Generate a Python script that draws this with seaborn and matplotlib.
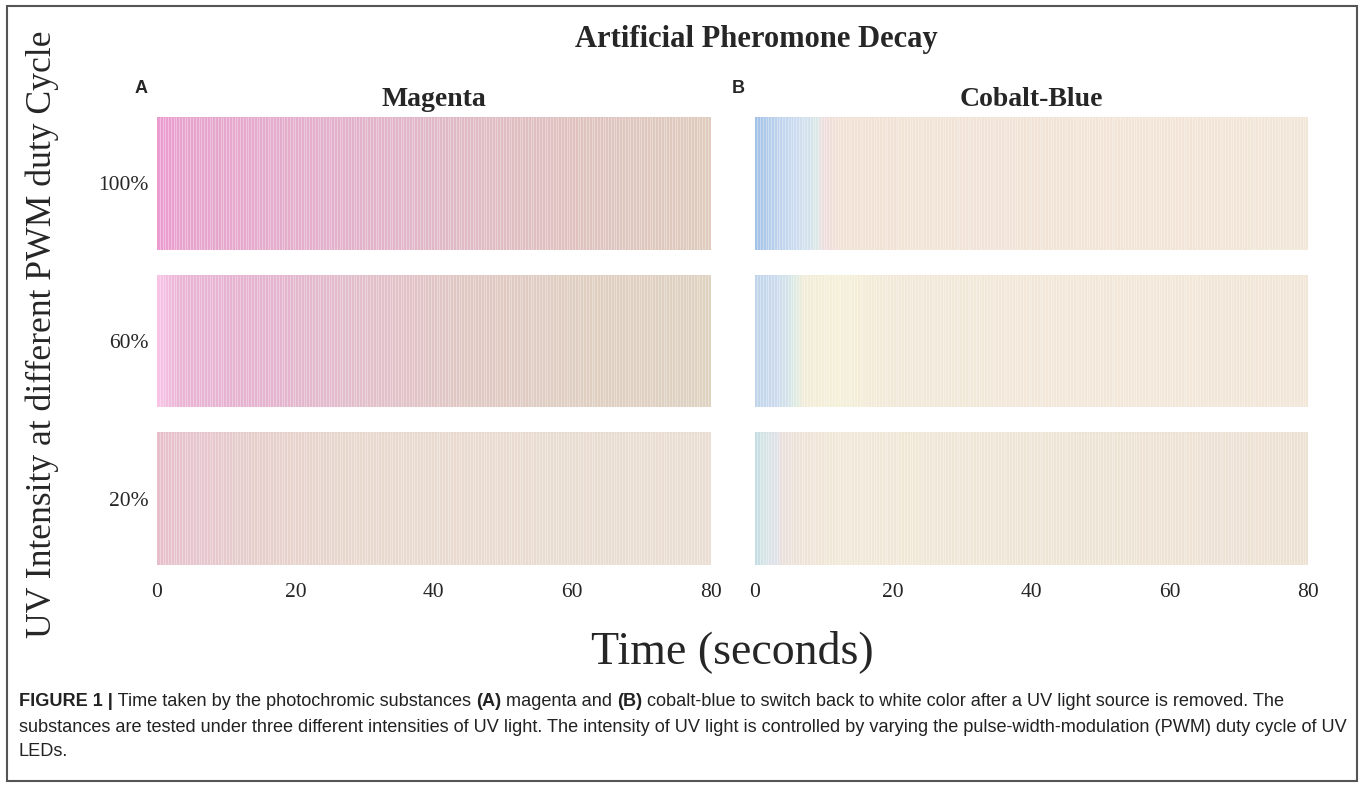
import numpy as np
import matplotlib.pyplot as plt
import seaborn as sns
from matplotlib.colors import LinearSegmentedColormap
from matplotlib.patches import Rectangle

sns.set_style("white")
plt.rcParams["font.family"] = ["Liberation Serif", "DejaVu Serif"]

# one stripe every 0.4 s, 0 - 80 s
time_step = 0.4
t_max = 80
duty_labels = ["100%", "60%", "20%"]
panel_titles = ["Magenta", "Cobalt-Blue"]
panel_letters = ["A", "B"]
x_ticks = [0, 20, 40, 60, 80]

magenta_100_t = [0, 4, 20, 40, 60, 80]
magenta_100_c = ["#ec9ccf", "#e7a4ce", "#e4aecc", "#e0b8c7", "#dfc2bf", "#dfccbe"]
magenta_60_t = [0, 3, 15, 30, 45, 60, 80]
magenta_60_c = ["#f7c4e6", "#eab4d5", "#e4b3cf", "#e2bfca", "#e0c8c3", "#dfcec1", "#dfd2c1"]
magenta_20_t = [0, 5, 15, 30, 80]
magenta_20_c = ["#e7bfcb", "#e6c5ce", "#e6cfcb", "#e8d9ce", "#eaded2"]

cobalt_100_t = [0, 3, 6, 8, 9, 10, 12, 80]
cobalt_100_c = ["#a3c2e8", "#bcd2ec", "#cddcf0", "#d6e4ec", "#dde9e6", "#f0dcdc", "#f1e2d6", "#f2e6d8"]
cobalt_60_t = [0, 3, 5, 6, 7, 12, 20, 80]
cobalt_60_c = ["#c0d5ea", "#ccdaee", "#d6e6e8", "#e2ece0", "#f2ecd8", "#f4f0d8", "#f2e8d8", "#f2e6d8"]
cobalt_20_t = [0, 1, 3, 4, 7, 12, 80]
cobalt_20_c = ["#c6dde4", "#d4e4e6", "#e0e2e8", "#eae0dc", "#f0e4d8", "#f0e8d8", "#ede1d4"]

strips = [
    [(magenta_100_t, magenta_100_c), (cobalt_100_t, cobalt_100_c)],
    [(magenta_60_t, magenta_60_c), (cobalt_60_t, cobalt_60_c)],
    [(magenta_20_t, magenta_20_c), (cobalt_20_t, cobalt_20_c)],
]

times = np.arange(0, t_max, time_step) + time_step / 2

fig, axes = plt.subplots(3, 2, figsize=(13.63, 7.87), dpi=100)
fig.subplots_adjust(left=0.1152, right=0.9597, top=0.8513, bottom=0.2821,
                    wspace=0.0794, hspace=0.188)

for r in range(3):
    for c in range(2):
        ax = axes[r, c]
        t_stops, c_stops = strips[r][c]
        cmap = LinearSegmentedColormap.from_list(
            f"s{r}{c}", [(t / t_max, col) for t, col in zip(t_stops, c_stops)])
        sns.heatmap(times[None, :], cmap=cmap, vmin=0, vmax=t_max, cbar=False,
                    ax=ax, xticklabels=False, yticklabels=False)
        # faint light lines between the samples
        ax.vlines(np.arange(1, len(times)), 0, 1, color="white", linewidth=0.6, alpha=0.4)
        ax.tick_params(length=0)
        if c == 0:
            ax.set_yticks([0.5])
            ax.set_yticklabels([duty_labels[r]], fontsize=15.5, rotation=0)
            ax.tick_params(axis="y", pad=6)
        if r == 2:
            ax.set_xticks([t / time_step for t in x_ticks])
            ax.set_xticklabels([str(t) for t in x_ticks], fontsize=15.5)
            ax.tick_params(axis="x", pad=13)

for c in range(2):
    axes[0, c].set_title(panel_titles[c], fontsize=20, fontweight="bold", pad=8)
    pos = axes[0, c].get_position()
    fig.text(pos.x0 - 0.012, 0.888, panel_letters[c], fontsize=13, fontweight="bold",
             family="Liberation Sans", ha="center", va="center")

fig.text(0.555, 0.950, "Artificial Pheromone Decay", fontsize=22, fontweight="bold",
         ha="center", va="center")
fig.text(0.031, 0.575, "UV Intensity at different PWM duty Cycle", fontsize=25.7,
         rotation=90, ha="center", va="center")
fig.text(0.537, 0.172, "Time (seconds)", fontsize=33, ha="center", va="center")

# figure border
fig.patches.append(Rectangle((7 / 1363, 6 / 787), 1350 / 1363, 775 / 787,
                             transform=fig.transFigure, fill=False,
                             edgecolor="#555555", linewidth=1.5))

# caption, with bold pieces
caption = [
    [("FIGURE 1 |", "bold"), (" Time taken by the photochromic substances ", "normal"),
     ("(A)", "bold"), (" magenta and ", "normal"), ("(B)", "bold"),
     (" cobalt-blue to switch back to white color after a UV light source is removed. The", "normal")],
    [("substances are tested under three different intensities of UV light. The intensity of UV "
      "light is controlled by varying the pulse-width-modulation (PWM) duty cycle of UV", "normal")],
    [("LEDs.", "normal")],
]
cap_y = [701, 727, 752]
renderer = fig.canvas.get_renderer()
for line, y in zip(caption, cap_y):
    x = 19
    for text, weight in line:
        t = fig.text(x / 1363, 1 - y / 787, text, fontsize=13.1, fontweight=weight,
                     family="Liberation Sans", color="#222222", ha="left", va="center")
        x += t.get_window_extent(renderer).width

fig.savefig("out.png", dpi=100)
